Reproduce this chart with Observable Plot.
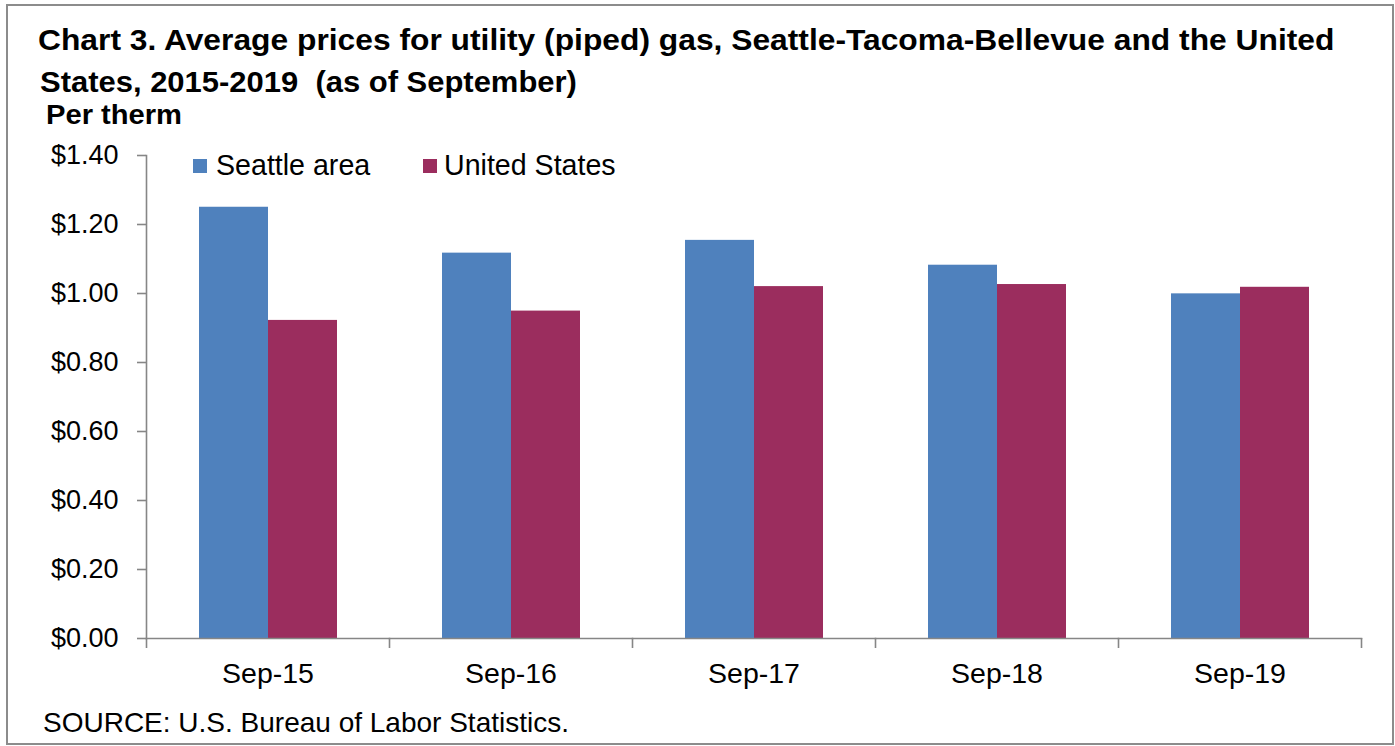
<!DOCTYPE html>
<html>
<head>
<meta charset="utf-8">
<script src="https://cdn.jsdelivr.net/npm/d3@7"></script>
<script src="https://cdn.jsdelivr.net/npm/@observablehq/plot@0.6"></script>
<style>
html, body { margin: 0; padding: 0; background: #fff; }
#wrap { position: relative; width: 1395px; height: 746px; overflow: hidden; background: #fff; }
#chart { position: absolute; left: 0; top: 0; }
#border { position: absolute; left: 6px; top: 4px; width: 1388px; height: 741px; border: 2px solid #8c8c8c; box-sizing: border-box; pointer-events: none; }
.t { position: absolute; white-space: nowrap; line-height: 1; color: #000; }
.title { font-family: "Liberation Sans Narrow", "Arial Narrow", "Liberation Sans", Arial, sans-serif; font-weight: bold; font-size: 30px; transform-origin: 0 0; }
.plain { font-family: "Liberation Sans", Arial, sans-serif; font-size: 28px; }
.sw { position: absolute; width: 14px; height: 14px; }
</style>
</head>
<body>
<div id="wrap">
  <div id="chart"></div>
  <div class="t title" id="title1" style="left:38px; top:24.6px;">Chart 3. Average prices for utility (piped) gas, Seattle-Tacoma-Bellevue and the United</div>
  <div class="t title" id="title2" style="left:40px; top:66.6px;">States, 2015-2019&nbsp; (as of September)</div>
  <div class="t title" id="unit" style="left:46px; top:102px; font-size:27px;">Per therm</div>
  <div id="legend"></div>
  <div class="t plain" id="source" style="left:43px; top:709px;">SOURCE: U.S. Bureau of Labor Statistics.</div>
  <div id="border"></div>
</div>
<script>
// ---- data ----
const categories = ["Sep-15", "Sep-16", "Sep-17", "Sep-18", "Sep-19"];
const seriesNames = ["Seattle area", "United States"];
const seattleArea = [1.250, 1.117, 1.154, 1.082, 0.999];
const unitedStates = [0.922, 0.949, 1.020, 1.026, 1.018];
const yTicks = [0, 0.2, 0.4, 0.6, 0.8, 1.0, 1.2, 1.4];
const seriesColors = ["#4f81bd", "#9b2d5e"];

// ---- table for Plot ----
const seriesValues = [seattleArea, unitedStates];
const table = [];
categories.forEach((c, i) => {
  seriesNames.forEach((s, j) => table.push({category: c, series: s, value: seriesValues[j][i]}));
});

// ---- layout ----
const W = 1395, H = 746;
const mL = 146, mR = 34, mT = 155, mB = 108;
const facetW = (W - mL - mR) / categories.length;
const axisGray = "#868686";

const chart = Plot.plot({
  width: W,
  height: H,
  marginLeft: mL,
  marginRight: mR,
  marginTop: mT,
  marginBottom: mB,
  style: {fontFamily: "'Liberation Sans', Arial, sans-serif", background: "transparent", color: "#000"},
  fx: {domain: categories, padding: 0, axis: null},
  x: {domain: seriesNames, paddingInner: 0, paddingOuter: 0.745, axis: null},
  y: {domain: [0, 1.4], axis: null},
  color: {domain: seriesNames, range: seriesColors},
  marks: [
    Plot.barY(table, {fx: "category", x: "series", y: "value", fill: "series"}),
    Plot.frame({anchor: "bottom", stroke: axisGray, strokeWidth: 1.6}),
    Plot.frame({anchor: "left", facetAnchor: "left", stroke: axisGray, strokeWidth: 1.6}),
    Plot.axisY({ticks: yTicks, tickFormat: d => "$" + d.toFixed(2), tickSize: 9, tickPadding: 19,
                fontSize: 27, stroke: axisGray, strokeWidth: 1.6, fill: "#000", label: null}),
    Plot.axisFx({anchor: "bottom", tickSize: 0, tickPadding: 24, fontSize: 28.5, fill: "#000", label: null}),
    Plot.axisFx({anchor: "bottom", tickSize: 10, tickFormat: () => "", dx: -facetW / 2,
                 stroke: axisGray, strokeWidth: 1.6, label: null}),
    Plot.axisFx({anchor: "bottom", ticks: [categories[categories.length - 1]], tickSize: 10,
                 tickFormat: () => "", dx: facetW / 2, stroke: axisGray, strokeWidth: 1.6, label: null})
  ]
});
document.getElementById("chart").appendChild(chart);

// ---- legend (HTML, above the SVG) ----
const legend = document.getElementById("legend");
const legendPos = [{sq: 193, tx: 216}, {sq: 423, tx: 444}];
seriesNames.forEach((s, j) => {
  const sw = document.createElement("div");
  sw.className = "sw";
  sw.style.left = legendPos[j].sq + "px";
  sw.style.top = "159px";
  sw.style.background = seriesColors[j];
  legend.appendChild(sw);
  const tx = document.createElement("div");
  tx.className = "t plain";
  tx.style.left = legendPos[j].tx + "px";
  tx.style.top = "151px";
  tx.style.fontSize = "28.6px";
  tx.textContent = s;
  legend.appendChild(tx);
});

// fit each title line to the reference widths
const fits = [["title1", 1297], ["title2", 537], ["unit", 136]];
fits.forEach(([id, target]) => {
  const el = document.getElementById(id);
  const w = el.getBoundingClientRect().width;
  const k = target / w;
  if (Math.abs(k - 1) > 0.01) el.style.transform = "scaleX(" + k.toFixed(3) + ")";
});
</script>
</body>
</html>
